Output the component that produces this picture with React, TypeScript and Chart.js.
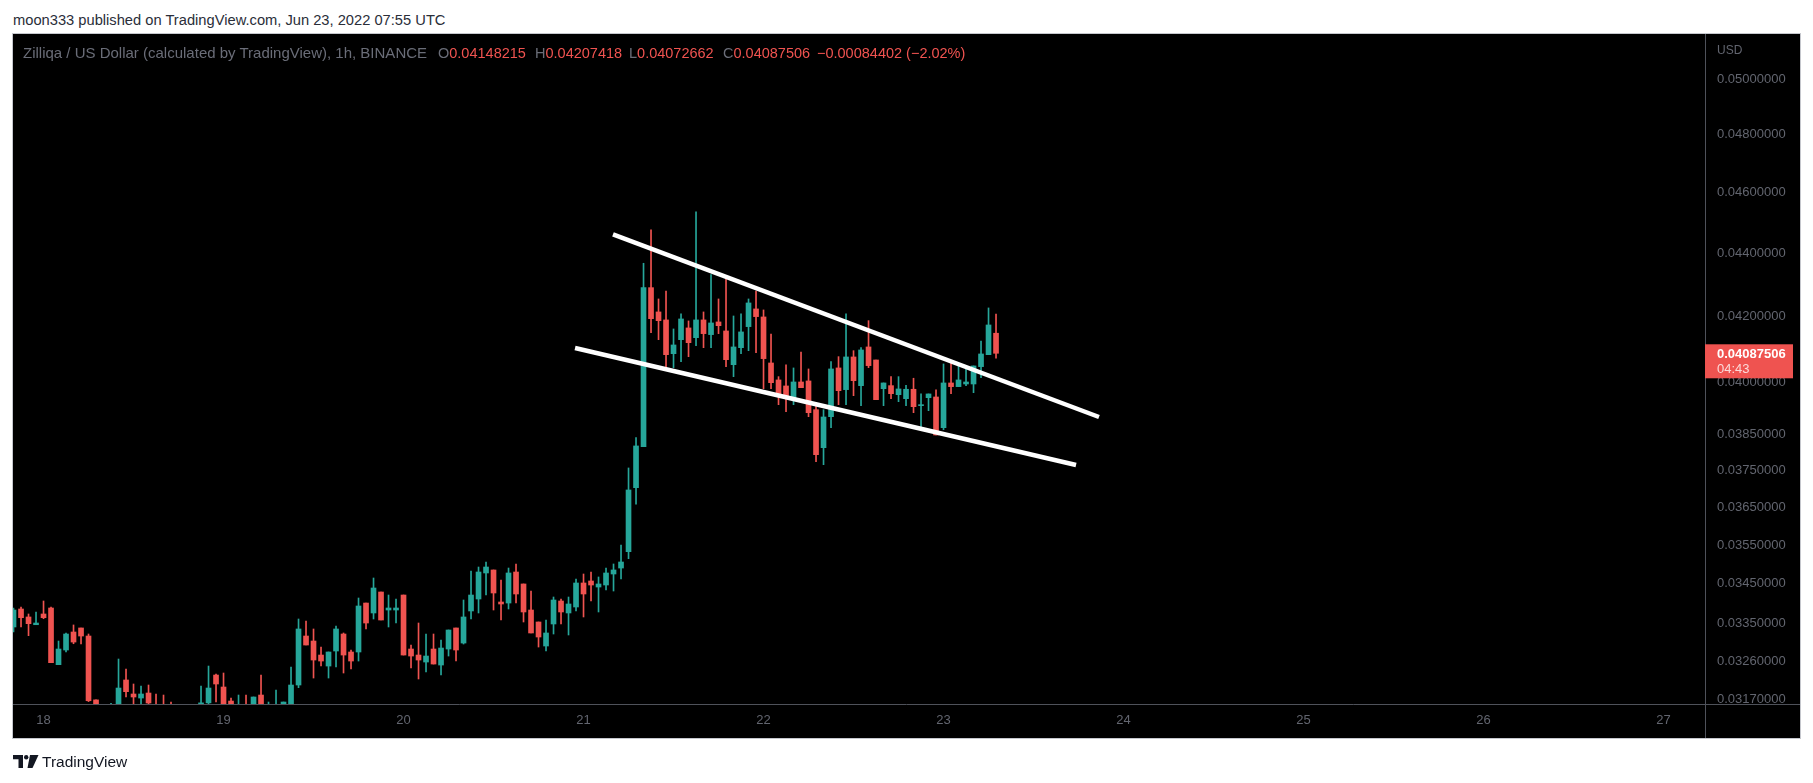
import React, { useEffect, useRef } from "react";
import { Chart, registerables } from "chart.js";

Chart.register(...registerables);

// Hourly candles, ZIL/USD (Binance), first candle = 2022-06-17 20:00 UTC
const FIRST_HOUR = 20; // hours after 2022-06-17 00:00 UTC

const opens = [
  0.033424, 0.033869, 0.033671, 0.03348, 0.033745, 0.033894, 0.03251, 0.032863, 0.033301, 0.0334,
  0.033203, 0.03168, 0.03135, 0.0313, 0.0315, 0.032147, 0.031817, 0.031723, 0.03184, 0.03155,
  0.0315, 0.0314, 0.0313, 0.0312, 0.0313, 0.0314, 0.03161, 0.032264, 0.031981, 0.031653,
  0.03145, 0.03155, 0.03145, 0.031793, 0.0314, 0.03145, 0.0315, 0.03155, 0.032028, 0.033203,
  0.033081, 0.032742, 0.032478, 0.032839, 0.033252, 0.032815, 0.032815, 0.034018, 0.03377, 0.034295,
  0.033844, 0.033844, 0.034219, 0.032887, 0.032742, 0.032574, 0.032887, 0.032502, 0.032887, 0.0334,
  0.033032, 0.03382, 0.034119, 0.034778, 0.034855, 0.034044, 0.034018, 0.034803, 0.034498, 0.033844,
  0.033547, 0.03296, 0.033498, 0.034069, 0.03377, 0.033919, 0.034523, 0.034574, 0.034421, 0.034472,
  0.034752, 0.034905, 0.035327, 0.037029, 0.038163, 0.042896, 0.042137, 0.04189, 0.040864, 0.041287,
  0.041644, 0.041347, 0.04189, 0.04144, 0.041828, 0.041552, 0.040535, 0.041044, 0.041684, 0.04223,
  0.041982, 0.040585, 0.040082, 0.039905, 0.039534, 0.040022, 0.040052, 0.039215, 0.038135, 0.039014,
  0.040437, 0.039797, 0.040765, 0.039914, 0.041066, 0.040675, 0.039826, 0.039914, 0.03965, 0.039534,
  0.039808, 0.039331, 0.039563, 0.039583, 0.0387, 0.039993, 0.039885, 0.039963, 0.039963, 0.040476,
  0.040834, 0.04148215,
];
const highs = [
  0.033894, 0.033919, 0.033745, 0.033795, 0.034069, 0.033919, 0.033081, 0.033277, 0.033474, 0.0334,
  0.033252, 0.03168, 0.0315, 0.0316, 0.032646, 0.032407, 0.032052, 0.032005, 0.032028, 0.031817,
  0.031793, 0.03163, 0.0315, 0.0315, 0.03155, 0.032005, 0.032478, 0.032288, 0.032312, 0.031723,
  0.031793, 0.031793, 0.031747, 0.032264, 0.03163, 0.03191, 0.03163, 0.032454, 0.033621, 0.033572,
  0.033375, 0.032935, 0.032815, 0.033449, 0.033277, 0.032863, 0.034144, 0.034018, 0.03465, 0.034295,
  0.034219, 0.034119, 0.034219, 0.032984, 0.033522, 0.033252, 0.033252, 0.033105, 0.03335, 0.0334,
  0.034094, 0.034829, 0.034931, 0.035061, 0.034855, 0.034599, 0.034905, 0.035009, 0.034498, 0.03432,
  0.033547, 0.033596, 0.034169, 0.034119, 0.034169, 0.034625, 0.034752, 0.034803, 0.034676, 0.034905,
  0.035009, 0.035501, 0.03757, 0.038416, 0.043672, 0.044756, 0.042541, 0.042792, 0.041613, 0.042075,
  0.041859, 0.045353, 0.042137, 0.043309, 0.042541, 0.043172, 0.042012, 0.042075, 0.042541, 0.042792,
  0.042199, 0.04146, 0.040179, 0.040527, 0.040437, 0.040915, 0.040407, 0.039418, 0.039215, 0.040624,
  0.040774, 0.042075, 0.040954, 0.041044, 0.041868, 0.040675, 0.039993, 0.040179, 0.040179, 0.039926,
  0.040132, 0.039671, 0.039671, 0.039788, 0.040556, 0.040646, 0.040496, 0.040407, 0.040496, 0.041247,
  0.042261, 0.04207418,
];
const lows = [
  0.033301, 0.033424, 0.033211, 0.03348, 0.033628, 0.032558, 0.03251, 0.032815, 0.033015, 0.033008,
  0.03164, 0.0312, 0.0311, 0.0312, 0.03145, 0.031747, 0.03155, 0.03156, 0.0315, 0.0313,
  0.0313, 0.0311, 0.031, 0.031, 0.0311, 0.0313, 0.03155, 0.03163, 0.0314, 0.0314,
  0.03135, 0.03135, 0.0314, 0.0314, 0.0313, 0.0313, 0.0314, 0.0315, 0.031965, 0.032984,
  0.032193, 0.032478, 0.032193, 0.032454, 0.032312, 0.032407, 0.032598, 0.033375, 0.033621, 0.033596,
  0.033424, 0.033522, 0.032742, 0.032431, 0.03217, 0.032336, 0.032526, 0.032264, 0.032718, 0.032598,
  0.033008, 0.033621, 0.03377, 0.034219, 0.033844, 0.033596, 0.033869, 0.034018, 0.033547, 0.033277,
  0.032935, 0.032839, 0.033252, 0.033498, 0.033228, 0.03382, 0.033671, 0.034069, 0.033795, 0.034346,
  0.03432, 0.034625, 0.035146, 0.03658, 0.038163, 0.0415, 0.041287, 0.040416, 0.040446, 0.040624,
  0.040774, 0.041105, 0.041044, 0.041044, 0.04147, 0.040476, 0.040179, 0.040864, 0.040954, 0.040894,
  0.039826, 0.039826, 0.03936, 0.039157, 0.03936, 0.039855, 0.039014, 0.037744, 0.037661, 0.0387,
  0.03936, 0.03936, 0.039621, 0.039331, 0.040446, 0.039505, 0.039331, 0.039534, 0.039446, 0.039331,
  0.039128, 0.038728, 0.039186, 0.038492, 0.038643, 0.039679, 0.039885, 0.039914, 0.039708, 0.04015,
  0.040834, 0.04072662,
];
const closes = [
  0.033844, 0.033653, 0.033505, 0.033522, 0.033653, 0.032558, 0.032887, 0.033252, 0.033056, 0.033203,
  0.03166, 0.03135, 0.0313, 0.0315, 0.031957, 0.031871, 0.031747, 0.031817, 0.031607, 0.03145,
  0.0314, 0.0313, 0.0312, 0.0313, 0.0314, 0.03161, 0.031957, 0.032052, 0.0315, 0.0315,
  0.03155, 0.03145, 0.031747, 0.0315, 0.0315, 0.03155, 0.03163, 0.032028, 0.033375, 0.032984,
  0.032622, 0.032598, 0.032815, 0.033375, 0.032742, 0.032598, 0.033944, 0.033522, 0.034396, 0.033596,
  0.033894, 0.033894, 0.032742, 0.032718, 0.032622, 0.032718, 0.032526, 0.032911, 0.03335, 0.032863,
  0.033671, 0.034219, 0.034803, 0.034931, 0.03427, 0.033994, 0.034778, 0.034245, 0.033795, 0.033277,
  0.033179, 0.033277, 0.034094, 0.033795, 0.033994, 0.034523, 0.034245, 0.034472, 0.034498, 0.034778,
  0.034855, 0.03506, 0.036967, 0.038183, 0.042896, 0.041929, 0.041868, 0.040834, 0.041126, 0.04192,
  0.041196, 0.04189, 0.04147, 0.041797, 0.041714, 0.040684, 0.041066, 0.041522, 0.042416, 0.041992,
  0.040715, 0.040002, 0.039679, 0.039534, 0.040022, 0.039855, 0.039128, 0.037939, 0.039005, 0.040407,
  0.039767, 0.040765, 0.040061, 0.040975, 0.040506, 0.039505, 0.039993, 0.039679, 0.039817, 0.039808,
  0.039302, 0.039351, 0.039671, 0.038492, 0.039993, 0.039885, 0.040082, 0.040022, 0.040496, 0.040855,
  0.041735, 0.04087506,
];

const dayTickHours = [24, 48, 72, 96, 120, 144, 168, 192, 216, 240];
const dayLabels = ["18", "19", "20", "21", "22", "23", "24", "25", "26", "27"];
const priceTicks = [
  0.0317, 0.0326, 0.0335, 0.0345, 0.0355, 0.0365, 0.0375, 0.0385, 0.04, 0.042, 0.044, 0.046, 0.048, 0.05,
];

// Falling-wedge trend lines (hour, price)
const upperTrend = [
  { x: 99.93, y: 0.044612 },
  { x: 164.73, y: 0.039004 },
];
const lowerTrend = [
  { x: 94.87, y: 0.041034 },
  { x: 161.67, y: 0.037652 },
];

const X_MIN = 19.93;
const X_MAX = 245.53;
const Y_MIN = 0.031584;
const Y_MAX = 0.051691;

const COUNTDOWN = "04:43";
const legendName = "Zilliqa / US Dollar (calculated by TradingView), 1h, BINANCE";
const legendChange = "\u22120.00084402 (\u22122.02%)";

const UP = "#26a69a";
const DOWN = "#ef5350";
const FONT = '"Liberation Sans", Arial, sans-serif';
const AXIS_TEXT = "#62656f";

export default function App() {
  const canvasRef = useRef<HTMLCanvasElement | null>(null);

  useEffect(() => {
    const canvas = canvasRef.current;
    if (!canvas) return;
    const xs = opens.map((_, i) => FIRST_HOUR + i);
    const colors = opens.map((o, i) => (closes[i] >= o ? UP : DOWN));
    const lastClose = closes[closes.length - 1];

    const framePlugin = {
      id: "tvFrame",
      afterDraw(chart: any) {
        const { ctx, chartArea } = chart;
        const yScale = chart.scales.y;
        ctx.save();
        ctx.strokeStyle = "#4f525a";
        ctx.lineWidth = 1;
        ctx.beginPath();
        ctx.moveTo(Math.round(chartArea.right) + 0.5, chartArea.top);
        ctx.lineTo(Math.round(chartArea.right) + 0.5, chartArea.bottom + 34);
        ctx.moveTo(chartArea.left, Math.round(chartArea.bottom) + 0.5);
        ctx.lineTo(chartArea.right + 95, Math.round(chartArea.bottom) + 0.5);
        ctx.stroke();

        const py = yScale.getPixelForValue(lastClose);
        ctx.fillStyle = "#ef5350";
        ctx.fillRect(chartArea.right, py - 9, 88, 34);
        ctx.textBaseline = "middle";
        ctx.textAlign = "left";
        ctx.fillStyle = "#ffffff";
        ctx.font = `bold 13px ${FONT}`;
        ctx.fillText(lastClose.toFixed(8), chartArea.right + 12, py + 1);
        ctx.fillStyle = "#fcd9d8";
        ctx.font = `13px ${FONT}`;
        ctx.fillText(COUNTDOWN, chartArea.right + 12, py + 16.5);
        ctx.restore();
      },
    };

    const chart = new Chart(canvas, {
      type: "bar",
      data: {
        datasets: [
          {
            type: "line",
            data: upperTrend,
            borderColor: "#ffffff",
            borderWidth: 4.5,
            borderCapStyle: "butt",
            pointRadius: 0,
            tension: 0,
            order: 0,
            clip: 0,
          } as any,
          {
            type: "line",
            data: lowerTrend,
            borderColor: "#ffffff",
            borderWidth: 4.5,
            borderCapStyle: "butt",
            pointRadius: 0,
            tension: 0,
            order: 0,
            clip: 0,
          } as any,
          {
            type: "bar",
            data: xs.map((x, i) => ({
              x,
              y: [Math.min(opens[i], closes[i]), Math.max(opens[i], closes[i])],
            })),
            backgroundColor: colors,
            borderWidth: 0,
            barThickness: 5,
            grouped: false,
            minBarLength: 1,
            order: 1,
            clip: 0,
          } as any,
          {
            type: "bar",
            data: xs.map((x, i) => ({ x, y: [lows[i], highs[i]] })),
            backgroundColor: colors,
            borderWidth: 0,
            barThickness: 1,
            grouped: false,
            order: 2,
            clip: 0,
          } as any,
        ],
      },
      options: {
        responsive: false,
        animation: false,
        events: [],
        layout: { padding: { left: 13, top: 34, right: 13, bottom: 45 } },
        plugins: { legend: { display: false }, tooltip: { enabled: false } },
        scales: {
          x: {
            type: "linear",
            min: X_MIN,
            max: X_MAX,
            offset: false,
            grid: { display: false, drawTicks: false },
            border: { display: false },
            afterBuildTicks: (s: any) => {
              s.ticks = dayTickHours.map((v) => ({ value: v }));
            },
            afterFit: (s: any) => {
              s.height = 34;
            },
            ticks: {
              autoSkip: false,
              maxRotation: 0,
              padding: 9,
              color: AXIS_TEXT,
              font: { family: FONT, size: 13 },
              callback: (v: any) => {
                const k = dayTickHours.indexOf(Number(v));
                return k >= 0 ? dayLabels[k] : "";
              },
            },
          },
          y: {
            type: "logarithmic",
            position: "right",
            min: Y_MIN,
            max: Y_MAX,
            beginAtZero: false,
            grid: { display: false, drawTicks: false },
            border: { display: false },
            afterBuildTicks: (s: any) => {
              s.ticks = priceTicks.map((v) => ({ value: v }));
            },
            afterFit: (s: any) => {
              s.width = 95;
            },
            ticks: {
              autoSkip: false,
              padding: 12,
              color: AXIS_TEXT,
              font: { family: FONT, size: 13 },
              callback: (v: any) => Number(v).toFixed(8),
            },
          },
        },
      } as any,
      plugins: [framePlugin],
    });
    return () => chart.destroy();
  }, []);

  const legendGroup = (x: number, letter: string, value: string) => (
    <div style={{ position: "absolute", left: x, top: 45, whiteSpace: "nowrap" }}>
      <span style={{ color: "#6a6d78" }}>{letter}</span>
      <span style={{ color: "#f05350" }}>{value}</span>
    </div>
  );

  return (
    <div
      style={{
        position: "absolute",
        left: 0,
        top: 0,
        width: 1813,
        height: 783,
        background: "#ffffff",
        fontFamily: FONT,
        overflow: "hidden",
      }}
    >
      <div
        style={{
          position: "absolute",
          left: 13,
          top: 11,
          fontSize: 14.7,
          lineHeight: "18px",
          color: "#2a2e39",
          whiteSpace: "nowrap",
        }}
      >
        moon333 published on TradingView.com, Jun 23, 2022 07:55 UTC
      </div>
      <div
        style={{
          position: "absolute",
          left: 12,
          top: 33,
          width: 1789,
          height: 706,
          boxSizing: "border-box",
          border: "1px solid #c5c7cd",
          background: "#000000",
        }}
      />
      <canvas
        ref={canvasRef}
        width={1813}
        height={783}
        style={{ position: "absolute", left: 0, top: 0, width: 1813, height: 783 }}
      />
      <div style={{ position: "absolute", left: 0, top: 0, fontSize: 14.5, lineHeight: "16px" }}>
        <div style={{ position: "absolute", left: 23, top: 45, color: "#6a6d78", whiteSpace: "nowrap", fontSize: 15 }}>
          {legendName}
        </div>
        {legendGroup(438, "O", opens[opens.length - 1].toFixed(8))}
        {legendGroup(535, "H", highs[highs.length - 1].toFixed(8))}
        {legendGroup(629, "L", lows[lows.length - 1].toFixed(8))}
        {legendGroup(723, "C", closes[closes.length - 1].toFixed(8))}
        <div style={{ position: "absolute", left: 817, top: 45, color: "#f05350", whiteSpace: "nowrap" }}>
          {legendChange}
        </div>
      </div>
      <div
        style={{
          position: "absolute",
          left: 1717,
          top: 43,
          fontSize: 12,
          lineHeight: "14px",
          color: AXIS_TEXT,
        }}
      >
        USD
      </div>
      <svg
        width={26}
        height={14}
        viewBox="0 0 26 14"
        style={{ position: "absolute", left: 13, top: 755 }}
      >
        <path d="M0 0h10v13H5.5V4.2H0z" fill="#131722" />
        <circle cx={13.2} cy={2.2} r={2.2} fill="#131722" />
        <path d="M17 0h8.5L19.5 13H14.5z" fill="#131722" />
      </svg>
      <div
        style={{
          position: "absolute",
          left: 42,
          top: 752,
          fontSize: 15.5,
          lineHeight: "20px",
          color: "#131722",
          whiteSpace: "nowrap",
        }}
      >
        TradingView
      </div>
    </div>
  );
}
